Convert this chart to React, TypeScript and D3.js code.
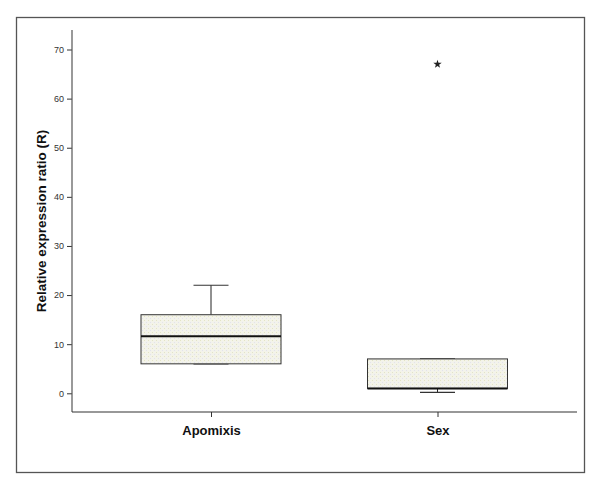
import { useEffect, useRef } from "react";
import * as d3 from "d3";

// Box plot summary values
const groups = ["Apomixis", "Sex"];
const whiskerLow = [6, 0.2];
const q1 = [6, 1];
const medians = [11.6, 1];
const q3 = [16, 7];
const whiskerHigh = [22, 7];
const outliers: number[][] = [[], [67]];
const yTicks = [0, 10, 20, 30, 40, 50, 60, 70];

const W = 600;
const H = 492;

const App = () => {
  const svgRef = useRef<SVGSVGElement | null>(null);

  useEffect(() => {
    if (!svgRef.current) return;
    const svg = d3.select(svgRef.current);
    svg.selectAll("*").remove();

    const left = 72;
    const right = 577;
    const top = 30;
    const bottom = 412;

    // outer frame
    svg
      .append("rect")
      .attr("x", 16.5)
      .attr("y", 17.5)
      .attr("width", 568)
      .attr("height", 455)
      .attr("fill", "#fff")
      .attr("stroke", "#555")
      .attr("stroke-width", 1.3);

    const y = d3.scaleLinear().domain([0, 70]).range([393.3, 49.5]);
    const x = d3
      .scalePoint<string>()
      .domain(groups)
      .range([211, 437.5]);

    // dotted fill pattern
    const defs = svg.append("defs");
    const pat = defs
      .append("pattern")
      .attr("id", "dots")
      .attr("width", 4)
      .attr("height", 4)
      .attr("patternUnits", "userSpaceOnUse");
    pat.append("rect").attr("width", 4).attr("height", 4).attr("fill", "#f3f3ea");
    pat.append("rect").attr("x", 0).attr("y", 0).attr("width", 1).attr("height", 1).attr("fill", "#e4e4c4");
    pat.append("rect").attr("x", 2).attr("y", 2).attr("width", 1).attr("height", 1).attr("fill", "#e2e2ee");

    // y axis
    const yAxis = svg
      .append("g")
      .attr("transform", `translate(${left},0)`)
      .call(
        d3
          .axisLeft(y)
          .tickValues(yTicks)
          .tickSize(5)
          .tickSizeOuter(0)
          .tickPadding(3)
      );
    yAxis.select(".domain").remove();
    yAxis.selectAll("line").attr("stroke", "#333");
    yAxis
      .selectAll("text")
      .attr("font-family", "Liberation Sans, Arial, sans-serif")
      .attr("font-size", 9)
      .attr("fill", "#333");
    svg
      .append("line")
      .attr("x1", left)
      .attr("x2", left)
      .attr("y1", top)
      .attr("y2", bottom)
      .attr("stroke", "#555")
      .attr("stroke-width", 1.2);

    // x axis
    const xAxis = svg
      .append("g")
      .attr("transform", `translate(0,${bottom})`)
      .call(d3.axisBottom(x).tickSize(5).tickSizeOuter(0).tickPadding(9));
    xAxis.select(".domain").remove();
    xAxis.selectAll("line").attr("stroke", "#333");
    xAxis
      .selectAll("text")
      .attr("font-family", "Liberation Sans, Arial, sans-serif")
      .attr("font-size", 13)
      .attr("font-weight", "bold")
      .attr("fill", "#111");
    svg
      .append("line")
      .attr("x1", left)
      .attr("x2", right)
      .attr("y1", bottom)
      .attr("y2", bottom)
      .attr("stroke", "#333")
      .attr("stroke-width", 1.2);

    // y label
    svg
      .append("text")
      .attr("transform", `translate(46,${(top + bottom) / 2}) rotate(-90)`)
      .attr("text-anchor", "middle")
      .attr("font-family", "Liberation Sans, Arial, sans-serif")
      .attr("font-size", 13.5)
      .attr("font-weight", "bold")
      .attr("fill", "#111")
      .text("Relative expression ratio (R)");

    const boxHalf = 70;
    const capHalf = 17.5;

    groups.forEach((gName, i) => {
      const cx = x(gName) as number;
      const g = svg.append("g");

      // whiskers
      g.append("line")
        .attr("x1", cx)
        .attr("x2", cx)
        .attr("y1", y(q3[i]))
        .attr("y2", y(whiskerHigh[i]))
        .attr("stroke", "#222");
      g.append("line")
        .attr("x1", cx)
        .attr("x2", cx)
        .attr("y1", y(q1[i]))
        .attr("y2", y(whiskerLow[i]))
        .attr("stroke", "#222");
      [whiskerHigh[i], whiskerLow[i]].forEach((v) => {
        g.append("line")
          .attr("x1", cx - capHalf)
          .attr("x2", cx + capHalf)
          .attr("y1", y(v))
          .attr("y2", y(v))
          .attr("stroke", "#333")
          .attr("stroke-width", 1.2);
      });

      // box
      g.append("rect")
        .attr("x", cx - boxHalf)
        .attr("y", y(q3[i]))
        .attr("width", boxHalf * 2)
        .attr("height", y(q1[i]) - y(q3[i]))
        .attr("fill", "url(#dots)")
        .attr("stroke", "#333")
        .attr("stroke-width", 1);

      // median
      g.append("line")
        .attr("x1", cx - boxHalf)
        .attr("x2", cx + boxHalf)
        .attr("y1", y(medians[i]))
        .attr("y2", y(medians[i]))
        .attr("stroke", "#111")
        .attr("stroke-width", 2);

      // outliers
      outliers[i].forEach((v) => {
        g.append("path")
          .attr("transform", `translate(${cx},${y(v)})`)
          .attr("d", d3.symbol(d3.symbolStar, 22)())
          .attr("fill", "#222");
      });
    });
  }, []);

  return (
    <div style={{ margin: -8 }}>
      <svg ref={svgRef} width={W} height={H} style={{ display: "block", background: "#fff" }} />
    </div>
  );
};

export default App;
